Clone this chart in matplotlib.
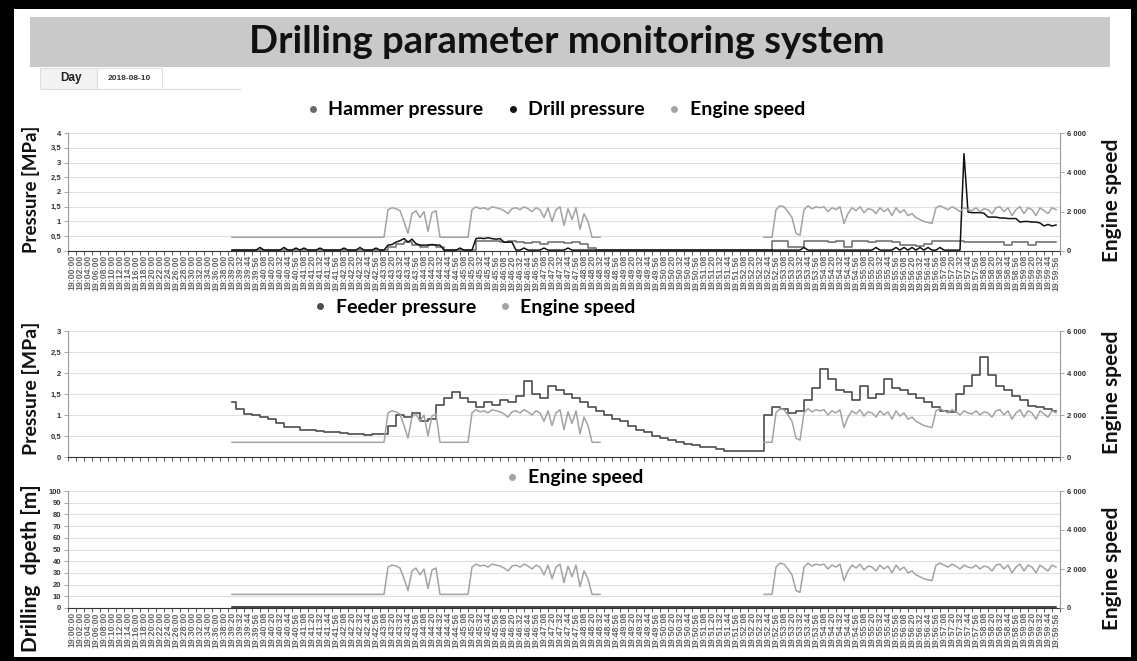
import numpy as np
import matplotlib
matplotlib.use('Agg')
import matplotlib.pyplot as plt
from matplotlib.lines import Line2D
from matplotlib.patches import Rectangle

# category axis: 2 min steps up to 19:38:00, then one label every 12 s
coarse_start, coarse_step, coarse_n = 19 * 3600, 120, 20
fine_start, fine_step, fine_n = 19 * 3600 + 39 * 60 + 20, 12, 104

# engine speed [rpm], one reading every 6 s from 19:39:20 (run 1) and 19:52:38 (run 2)
speed_step = 6
speed_run1_start = 0
speed_run1 = [700, 700, 700, 700, 700, 700, 700, 700, 700, 700,
              700, 700, 700, 700, 700, 700, 700, 700, 700, 700,
              700, 700, 700, 700, 700, 700, 700, 700, 700, 700,
              700, 700, 700, 700, 700, 700, 700, 700, 700,
              2100, 2200, 2150, 2050, 1500, 900, 1900, 2050, 1700, 2000, 1000, 1950, 2050, 700,
              700, 700, 700, 700, 700, 700, 700,
              2100, 2250, 2150, 2200, 2100, 2250, 2200, 2150, 2050, 1900,
              2150, 2200, 2100, 2250, 2150, 2000, 2200, 2100, 1700, 2200,
              1500, 2100, 2250, 1300, 2150, 1600, 2200, 1100, 1900, 1500,
              700, 700, 700]
speed_run2_start = 798
speed_run2 = [700, 700, 700,
              2100, 2300, 2250, 2000, 1700, 900, 800, 2100, 2300, 2150,
              2250, 2200, 2250, 2000, 2200, 2100, 2250, 1400, 1900, 2200,
              2050, 2250, 1950, 2150, 2100, 1900, 2200, 2000, 2150, 1800,
              2200, 1950, 2100, 1800, 1900, 1700, 1600, 1500, 1450, 1400,
              2200, 2300, 2200, 2100, 2250, 2150, 2000, 2200, 2100, 2050,
              2200, 2000, 2150, 2100, 1900, 2200, 2250, 2000, 2200, 1800,
              2100, 2250, 1900, 2200, 2100, 1800, 2200, 2050, 1900, 2200, 2100]

# drill pressure [MPa], every 6 s from 19:39:20
drill_pressure = [.03, .03, .03, .03, .03, .03, .03, .12, .03, .03,
                  .03, .03, .03, .12, .03, .03, .10, .03, .10, .03,
                  .03, .03, .10, .03, .03, .03, .03, .03, .10, .03,
                  .03, .03, .12, .03, .03, .03, .10, .03, .03,
                  .20, .22, .30, .35, .42, .30, .40, .25, .20, .20, .20, .22, .20, .20,
                  .03, .03, .03, .03, .10, .03, .03, .03,
                  .42, .44, .42, .45, .42, .40, .42, .30, .30, .30,
                  .03, .03, .10, .03, .03, .03, .03, .10, .03, .03,
                  .03, .03, .03, .10, .03, .03, .03, .03, .03, .03, .03, .03,
                  .03, .03, .03, .03, .03, .03, .03, .03, .03, .03,
                  .03, .03, .03, .03, .03, .03, .03, .03, .03, .03,
                  .03, .03, .03, .03, .03, .03, .03, .03, .03, .03,
                  .03, .03, .03, .03, .03, .03, .03, .03, .03, .03,
                  .03, .03, .03, .03, .03, .03, .03, .03, .03, .03,
                  .12, .03, .03, .03, .03, .03, .03, .03, .03, .03,
                  .03, .03, .03, .03, .03, .03, .03, .03, .12, .03,
                  .03, .03, .03, .12, .03, .12, .03, .12, .03, .12,
                  .03, .12, .03, .03, .12, .03, .03, .03, .03, .03,
                  3.3, 1.32, 1.3, 1.3, 1.3, 1.28, 1.15, 1.15, 1.15, 1.12,
                  1.12, 1.1, 1.1, 1.1, .98, 1.0, 1.0, .98, .98, .95,
                  .85, .9, .85, .88]

# hammer pressure [MPa], every 12 s from 19:39:20
hammer_pressure = [.02, .02, .02, .02, .02, .02, .02, .02, .02, .02,
                   .02, .02, .02, .02, .02, .02, .02, .02, .02, .02,
                   .15, .25, .30, .20, .15, .20, .15,
                   .02, .02, .02, .02,
                   .35, .35, .33, .30, .35, .30, .28, .30, .25, .30, .30, .28, .30, .25, .10,
                   .02, .02, .02, .02, .02, .02, .02, .02, .02, .02, .02,
                   .02, .02, .02, .02, .02, .02, .02, .02, .02, .02, .02,
                   .35, .35, .15, .15, .35, .35, .35, .30, .33, .15,
                   .35, .35, .30, .35, .33, .30, .20, .20, .18, .25,
                   .35, .35, .33, .35, .30, .30, .32, .30, .30, .20,
                   .30, .30, .20, .30, .30, .30]

# feeder pressure [MPa], every 12 s from 19:39:20
feeder_pressure = [1.3, 1.15, 1.02, 1.0, .95, .9, .82, .72, .72, .65,
                   .65, .63, .6, .6, .58, .55, .55, .52, .55, .55,
                   .75, 1.0, .95, 1.05, .85, .9, 1.25, 1.4, 1.55, 1.4,
                   1.3, 1.2, 1.3, 1.25, 1.35, 1.3, 1.45, 1.8, 1.5, 1.4,
                   1.7, 1.6, 1.5, 1.4, 1.3, 1.2, 1.1, 1.0, .9, .85,
                   .75, .65, .6, .5, .45, .4, .35, .3, .28, .25,
                   .25, .2, .15, .15, .15, .15, .15, 1.0, 1.2, 1.15,
                   1.05, 1.1, 1.35, 1.65, 2.1, 1.85, 1.6, 1.55, 1.35, 1.7,
                   1.4, 1.5, 1.85, 1.65, 1.6, 1.5, 1.4, 1.3, 1.2, 1.1,
                   1.08, 1.5, 1.7, 1.95, 2.38, 1.95, 1.7, 1.6, 1.45, 1.35,
                   1.22, 1.2, 1.15, 1.1]

# drilling depth [m]: first and last reading
depth_times = [0, 1236]
drilling_depth = [0.5, 0.5]

C_HAMMER = '#6a6a6a'
C_DRILL = '#111111'
C_SPEED = '#a3a3a3'
C_FEEDER = '#4d4d4d'
TITLE_FONT = ['Lato', 'DejaVu Sans']
SMALL_FONT = ['Liberation Sans', 'DejaVu Sans']


def hms(s):
    return '%02d:%02d:%02d' % (s // 3600, s // 60 % 60, s % 60)


tick_labels = [hms(coarse_start + i * coarse_step) for i in range(coarse_n)] + \
              [hms(fine_start + i * fine_step) for i in range(fine_n)]


def pos(seconds):
    # seconds after 19:39:20 -> category position
    return coarse_n + np.asarray(seconds, dtype=float) / fine_step


speed_t = np.concatenate([speed_run1_start + np.arange(len(speed_run1)) * speed_step, [np.nan],
                          speed_run2_start + np.arange(len(speed_run2)) * speed_step])
speed = np.concatenate([speed_run1, [np.nan], speed_run2])
drill_t = np.arange(len(drill_pressure)) * speed_step
slow_t = np.arange(len(hammer_pressure)) * fine_step
feeder_t = np.arange(len(feeder_pressure)) * fine_step

W, H = 1137, 661
fig = plt.figure(figsize=(W / 100, H / 100), dpi=100, facecolor='black')
fig.patches.append(Rectangle((14 / W, 4 / H), (1131 - 14) / W, (652 - 4) / H,
                             transform=fig.transFigure, facecolor='white', edgecolor='none', zorder=-5))
# title bar
fig.patches.append(Rectangle((30 / W, 1 - 67 / H), 1080 / W, 50 / H, transform=fig.transFigure,
                             facecolor='#c9c9c9', edgecolor='none'))
fig.text(567 / W, 1 - 42 / H, 'Drilling parameter monitoring system', ha='center', va='center',
         fontsize=27.5, fontweight='bold', family=TITLE_FONT, color='#111')
# day selector
fig.patches.append(Rectangle((40 / W, 1 - 89 / H), 57 / W, 21 / H, transform=fig.transFigure,
                             facecolor='#f3f3f3', edgecolor='#dddddd', lw=0.8))
fig.patches.append(Rectangle((97 / W, 1 - 89 / H), 65 / W, 21 / H, transform=fig.transFigure,
                             facecolor='white', edgecolor='#dddddd', lw=0.8))
fig.lines.append(Line2D([162 / W, 240 / W], [1 - 89 / H, 1 - 89 / H], transform=fig.transFigure,
                        color='#dddddd', lw=0.8))
fig.text(71 / W, 1 - 78 / H, 'Day', ha='center', va='center', fontsize=8.5, fontweight='bold',
         family=SMALL_FONT, color='#222')
fig.text(129 / W, 1 - 78 / H, '2018-08-10', ha='center', va='center', fontsize=6, fontweight='bold',
         family=SMALL_FONT, color='#333')


def fmt(v):
    return ('%g' % v).replace('.', ',')


def make_panel(top, bottom, ymax, ystep, left_label, left_y, left_size, right_y,
               legend_items, legend_xy, show_times=True):
    rect = [68 / W, 1 - bottom / H, 992 / W, (bottom - top) / H]
    ax = fig.add_axes(rect)
    ax.set_xlim(-0.3, 123.25)
    ax.set_ylim(0, ymax)
    yt = np.arange(0, ymax + ystep / 2, ystep)
    ax.set_yticks(yt)
    ax.set_yticklabels([fmt(v) for v in yt], fontsize=5.5, fontweight='bold', color='#333',
                       family=SMALL_FONT)
    ax.yaxis.grid(True, color='#e0e0e0', lw=0.8)
    ax.set_axisbelow(True)
    ax.set_xticks(range(len(tick_labels)))
    if show_times:
        ax.set_xticklabels(tick_labels, rotation=90, fontsize=6.3, fontweight='bold', color='#666',
                           family=SMALL_FONT)
    else:
        ax.set_xticklabels([])
    ax.set_xticks(np.arange(-0.5, len(tick_labels), 1), minor=True)
    ax.tick_params(axis='x', which='major', length=0, pad=3)
    ax.tick_params(axis='x', which='minor', length=3, color='#444', width=0.6)
    ax.tick_params(axis='y', length=3, color='#999', width=0.6, pad=2)
    ax.spines['top'].set_visible(False)
    ax.spines['right'].set_visible(False)
    ax.spines['left'].set_color('#9a9a9a')
    ax.spines['bottom'].set_color('#333')
    ax.patch.set_alpha(0)

    ax2 = ax.twinx()
    ax2.set_ylim(0, 6000)
    ax2.set_yticks([0, 2000, 4000, 6000])
    ax2.set_yticklabels(['0', '2 000', '4 000', '6 000'], fontsize=5.5, fontweight='bold',
                        color='#333', family=SMALL_FONT)
    ax2.tick_params(axis='y', length=3, color='#999', width=0.6, pad=2)
    for s in ('top', 'left', 'bottom'):
        ax2.spines[s].set_visible(False)
    ax2.spines['right'].set_color('#9a9a9a')

    fig.text(31 / W, 1 - left_y / H, left_label, rotation=90, ha='center', va='center',
             fontsize=left_size, fontweight='bold', family=TITLE_FONT, color='#111')
    fig.text(1112 / W, 1 - right_y / H, 'Engine speed', rotation=90, ha='center',
             va='center', fontsize=15, fontweight='bold', family=TITLE_FONT, color='#111')

    handles = [Line2D([], [], ls='none', marker='o', markersize=4, color=c) for c, _ in legend_items]
    fig.legend(handles, [n for _, n in legend_items], loc='center',
               bbox_to_anchor=(legend_xy[0] / W, 1 - legend_xy[1] / H), ncol=len(legend_items),
               frameon=False, handlelength=0.6, handletextpad=0.5, columnspacing=1.2,
               prop={'family': TITLE_FONT, 'weight': 'bold', 'size': 14})
    return ax, ax2


ax, ax2 = make_panel(133, 251, 4, 0.5, 'Pressure [MPa]', 189, 13.5, 200,
                     [(C_HAMMER, 'Hammer pressure'), (C_DRILL, 'Drill pressure'),
                      (C_SPEED, 'Engine speed')], (556, 110))
ax2.plot(pos(speed_t), speed, color=C_SPEED, lw=1.1)
ax.plot(pos(slow_t), hammer_pressure, color=C_HAMMER, lw=1.1, drawstyle='steps-mid')
ax.plot(pos(drill_t), drill_pressure, color=C_DRILL, lw=1.1)

ax, ax2 = make_panel(331, 457, 3, 0.5, 'Pressure [MPa]', 388, 14, 392,
                     [(C_FEEDER, 'Feeder pressure'), (C_SPEED, 'Engine speed')], (475, 307),
                     show_times=False)
ax2.plot(pos(speed_t), speed, color=C_SPEED, lw=1.1)
ax.plot(pos(feeder_t), feeder_pressure, color=C_FEEDER, lw=1.2, drawstyle='steps-mid')

ax, ax2 = make_panel(491, 608, 100, 10, 'Drilling  dpeth [m]', 568, 15, 568,
                     [(C_SPEED, 'Engine speed')], (575, 478))
ax2.plot(pos(speed_t), speed, color=C_SPEED, lw=1.1)
ax.plot(pos(depth_times), drilling_depth, color=C_DRILL, lw=1.1)

fig.savefig('out.png', dpi=100, facecolor=fig.get_facecolor())
